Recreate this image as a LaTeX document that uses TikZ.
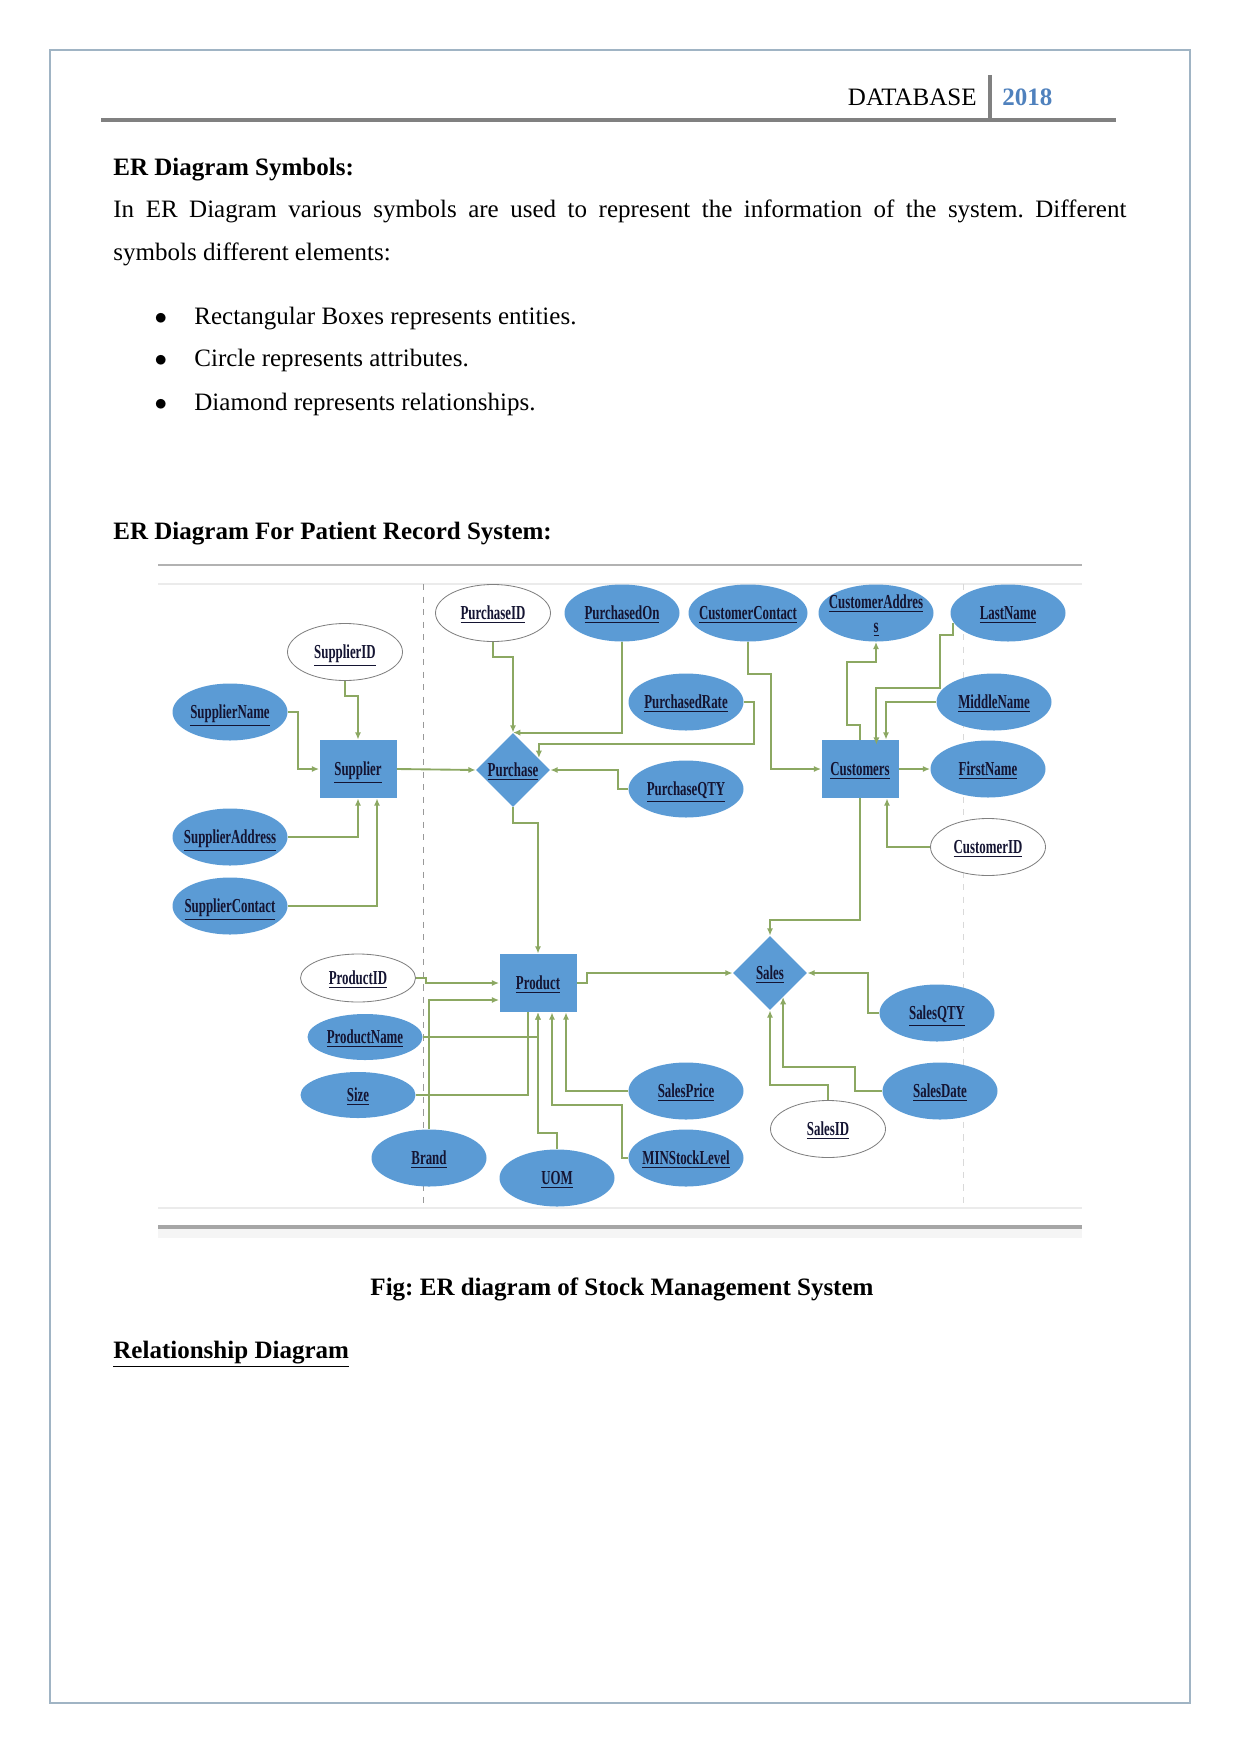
\documentclass[tikz,border=0pt]{standalone}
\usepackage{fontspec}
\setmainfont{Liberation Serif}
\newfontfamily\erfont[FakeStretch=0.65]{Liberation Serif}
\usetikzlibrary{shapes.geometric,arrows.meta,positioning,calc}
\newlength{\px}
\setlength{\px}{0.4797pt}
\definecolor{erblue}{RGB}{91,155,213}
\definecolor{erline}{RGB}{140,168,98}
\definecolor{ertext}{RGB}{20,20,50}
\definecolor{hdrblue}{RGB}{79,129,189}
\definecolor{pageframe}{RGB}{160,180,196}
\frenchspacing
\newcommand{\erlabel}[1]{\makebox[0pt]{\erfont\fontsize{9.5}{11.5}\selectfont\bfseries\color{ertext}%
  \raisebox{-3pt}[0pt][0pt]{\underline{#1}}}}
\newcommand{\erlabeltwo}[2]{\makebox[0pt]{\erfont\fontsize{9.5}{11.5}\selectfont\bfseries\color{ertext}%
  \raisebox{-3.4pt}[0pt][0pt]{\begin{tabular}{@{}c@{}}\underline{#1}\\\underline{#2}\end{tabular}}}}

\begin{document}
\begin{tikzpicture}[x=\px,y=-\px,
    entity/.style={rectangle, fill=erblue, minimum width=77*\px, minimum height=58*\px, inner sep=0pt},
    attr/.style={ellipse, fill=erblue, minimum width=115*\px, minimum height=57*\px, inner sep=0pt},
    keyattr/.style={attr, fill=white, draw=black!50, line width=0.4pt},
    rel/.style={diamond, fill=erblue, minimum width=74*\px, minimum height=74*\px, inner sep=0pt, aspect=1},
    conn/.style={draw=erline, line width=0.9pt, -{Latex[length=3.5pt,width=3pt]}},
    plain/.style={draw=erline, line width=0.9pt},
    body/.style={inner sep=0pt, font=\fontsize{12}{14}\selectfont},
    bodybf/.style={inner sep=0pt, font=\fontsize{12}{14}\selectfont\bfseries}]
    \useasboundingbox (0,0) rectangle (1241,1754);

    % Page frame and header
    \draw[pageframe, line width=0.8pt] (50,50) rectangle (1190,1703);
    \node[body, anchor=base east] (hdrtitle) at (977,105) {DATABASE};
    \node[bodybf, anchor=base west, text=hdrblue] (hdryear) at (1002,105) {2018};
    \draw[black!50, line width=1.5pt] (990,75) -- (990,120);
    \draw[black!50, line width=2pt] (101,120) -- (1116,120);

    % Text above the figure
    \node[bodybf, anchor=base west] (symhead) at (113,175) {ER Diagram Symbols:};
    \node[body, anchor=base west] (intro1) at (113,217)
        {\makebox[1013\px][s]{In ER Diagram various symbols are used to represent the information of the system. Different}};
    \node[body, anchor=base west] (intro2) at (113,260) {symbols different elements:};
    \node[body, anchor=base] (dot1) at (161,324) {$\bullet$};
    \node[body, anchor=base] (dot2) at (161,366) {$\bullet$};
    \node[body, anchor=base] (dot3) at (161,410) {$\bullet$};
    \node[body, anchor=base west] (item1) at (194,324) {Rectangular Boxes represents entities.};
    \node[body, anchor=base west] (item2) at (194,366) {Circle represents attributes.};
    \node[body, anchor=base west] (item3) at (194,410) {Diamond represents relationships.};
    \node[bodybf, anchor=base west] (erhead) at (113,539) {ER Diagram For Patient Record System:};

    % Figure frame
    \draw[black!30, line width=1pt] (158,565) -- (1082,565);
    \draw[black!8, line width=1pt] (158,584) -- (1082,584);
    \draw[black!40, dashed, line width=0.4pt] (423,584) -- (423,1208);
    \draw[black!15, dashed, line width=0.4pt] (963,584) -- (963,1208);
    \draw[black!8, line width=1pt] (158,1208) -- (1082,1208);
    \fill[black!4] (158,1228) rectangle (1082,1238);
    \draw[black!35, line width=1.5pt] (158,1227) -- (1082,1227);

    % Supplier
    \node[entity] (Supplier) at (358,769) {\erlabel{Supplier}};
    \node[keyattr] (SupplierID) at (345,652) {\erlabel{SupplierID}};
    \node[attr] (SupplierName) at (230,712) {\erlabel{SupplierName}};
    \node[attr] (SupplierAddress) at (230,837) {\erlabel{SupplierAddress}};
    \node[attr] (SupplierContact) at (230,906) {\erlabel{SupplierContact}};

    % Purchase
    \node[rel] (Purchase) at (513,770) {\erlabel{Purchase}};
    \node[keyattr] (PurchaseID) at (493,613) {\erlabel{PurchaseID}};
    \node[attr] (PurchasedOn) at (622,613) {\erlabel{PurchasedOn}};
    \node[attr] (PurchasedRate) at (686,702) {\erlabel{PurchasedRate}};
    \node[attr] (PurchaseQTY) at (686,789) {\erlabel{PurchaseQTY}};

    % Customers
    \node[entity] (Customers) at (860,769) {\erlabel{Customers}};
    \node[attr, minimum width=119*\px] (CustomerContact) at (748,613) {\erlabel{CustomerContact}};
    \node[attr] (CustomerAddress) at (876,613) {\erlabeltwo{CustomerAddres}{s}};
    \node[attr] (LastName) at (1008,613) {\erlabel{LastName}};
    \node[attr] (MiddleName) at (994,702) {\erlabel{MiddleName}};
    \node[attr] (FirstName) at (988,769) {\erlabel{FirstName}};
    \node[keyattr] (CustomerID) at (988,847) {\erlabel{CustomerID}};

    % Product
    \node[entity] (Product) at (538,983) {\erlabel{Product}};
    \node[keyattr, minimum height=48*\px] (ProductID) at (358,978) {\erlabel{ProductID}};
    \node[attr, minimum height=46*\px] (ProductName) at (365,1037) {\erlabel{ProductName}};
    \node[attr, minimum height=46*\px] (Size) at (358,1095) {\erlabel{Size}};
    \node[attr] (Brand) at (429,1158) {\erlabel{Brand}};
    \node[attr] (UOM) at (557,1178) {\erlabel{UOM}};
    \node[attr] (SalesPrice) at (686,1091) {\erlabel{SalesPrice}};
    \node[attr] (MINStockLevel) at (686,1158) {\erlabel{MINStockLevel}};

    % Sales
    \node[rel] (Sales) at (770,973) {\erlabel{Sales}};
    \node[attr] (SalesQTY) at (937,1013) {\erlabel{SalesQTY}};
    \node[attr] (SalesDate) at (940,1091) {\erlabel{SalesDate}};
    \node[keyattr] (SalesID) at (828,1129) {\erlabel{SalesID}};

    % Supplier links
    \draw[conn] (SupplierID.south) -- ++(0,15) -| (Supplier.north);
    \draw[conn] (SupplierName.east) -- ++(10,0) |- (Supplier.west);
    \draw[conn] (SupplierAddress.east) -| (Supplier.south);
    \draw[conn] (SupplierContact.east) -| ($(Supplier.south)+(19,0)$);
    \draw[conn] (Supplier.east) -- (Purchase.west);

    % Purchase links
    \draw[conn] (PurchaseID.south) -- ++(0,15) -| (Purchase.north);
    \draw[conn] (PurchasedOn.south) |- (Purchase.north);
    \draw[conn] (PurchasedRate.east) -- ++(10,0) -- ++(0,42) -- ++(-215,0) -- ++(0,14);
    \draw[conn] (PurchaseQTY.west) -- ++(-10,0) |- (Purchase.east);
    \draw[conn] (Purchase.south) -- ++(0,16) -| (Product.north);

    % Customers links
    \draw[conn] (CustomerContact.south) -- ++(0,32) -- ++(23,0) |- (Customers.west);
    \draw[conn] (Customers.north) -- ++(0,-15) -- ++(-13,0) |- ($(CustomerAddress.south)+(0,20)$) -- (CustomerAddress.south);
    \draw[conn] (LastName.190) -- ++(0,12) -- ++(-13,0) -- ++(0,53) -- ++(-64,0) -- ++(0,57);
    \draw[conn] (MiddleName.west) -| ($(Customers.north)+(26,0)$);
    \draw[conn] (Customers.east) -- (FirstName.west);
    \draw[conn] (CustomerID.west) -| ($(Customers.south)+(27,0)$);
    \draw[conn] (Customers.south) -- ++(0,122) -| (Sales.north);

    % Product links
    \draw[conn] (ProductID.east) -- ++(10,0) |- (Product.west);
    \draw[conn] (Brand.north) |- ($(Product.west)+(0,17)$);
    \draw[conn] (ProductName.east) -| (Product.south);
    \draw[plain] (Size.east) -| ($(Product.south)+(-10,0)$);
    \draw[conn] (UOM.north) -- ++(0,-16) -| (Product.south);
    \draw[conn] (SalesPrice.west) -| ($(Product.south)+(28,0)$);
    \draw[conn] (MINStockLevel.west) -- ++(-6,0) -- ++(0,-53) -| ($(Product.south)+(14,0)$);
    \draw[conn] (Product.east) -- ++(10,0) |- (Sales.west);

    % Sales links
    \draw[conn] (SalesQTY.west) -- ++(-11,0) |- (Sales.east);
    \draw[conn] (SalesDate.west) -- ++(-27,0) -- ++(0,-24) -- ++(-72,0) -- ++(0,-70);
    \draw[conn] (SalesID.north) -- ++(0,-15) -| (Sales.south);

    % Caption
    \node[bodybf, anchor=base] (caption) at (622,1295) {Fig: ER diagram of Stock Management System};
    \node[bodybf, anchor=base west] (relhead) at (113,1358) {\underline{Relationship Diagram}};
\end{tikzpicture}
\end{document}
